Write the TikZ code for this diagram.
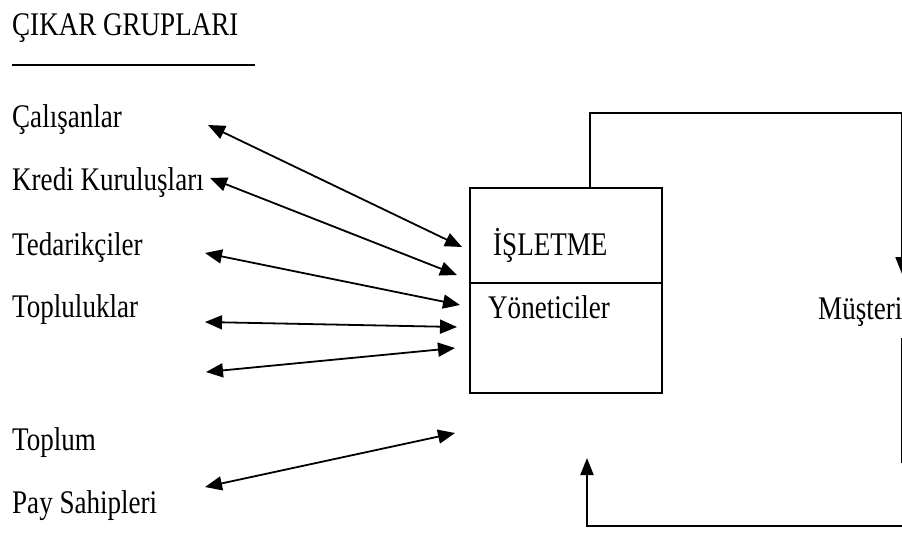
\documentclass[tikz,border=0pt]{standalone}
\usepackage{fontspec}
\setmainfont[FakeStretch=0.82]{Liberation Serif}
\usetikzlibrary{arrows.meta}
\begin{document}
\begin{tikzpicture}[x=1pt,y=-1pt,
  lbl/.style={anchor=base west,inner sep=0pt,font=\fontsize{33}{40}\selectfont},
  link/.style={line width=1.8pt,{Triangle[length=17pt,width=14pt]}-{Triangle[length=17pt,width=14pt]}},
  flow/.style={line width=2pt,-{Triangle[length=17pt,width=13pt]}},
  frame/.style={line width=2pt}]
\useasboundingbox (0,0) rectangle (902,533);
\clip (0,0) rectangle (902,533);

% heading
\node[lbl] (title) at (12,35) {ÇIKAR GRUPLARI};
\draw[frame] (12,65) -- (255,65);

% stakeholder groups
\node[lbl] (calisan) at (12,127) {Çalışanlar};
\node[lbl] (kredi) at (12,190) {Kredi Kuruluşları};
\node[lbl] (tedarik) at (12,255) {Tedarikçiler};
\node[lbl] (topluluk) at (12,317) {Topluluklar};
\node[lbl] (toplum) at (12,450) {Toplum};
\node[lbl] (pay) at (12,513) {Pay Sahipleri};

% the firm
\node[draw,frame,anchor=north west,minimum width=192pt,minimum height=205pt,inner sep=0pt]
  (isletme) at (469,187) {};
\draw[frame] (469,283) -- (661,283);
\node[lbl] (isletmeT) at (493,255) {İŞLETME};
\node[lbl] (yonetici) at (488,318) {Yöneticiler};

% customers
\node[lbl] (musteri) at (818,319) {Müşteri};

% arrow end points
\coordinate (a1) at (208,125); \coordinate (b1) at (462,247);
\coordinate (a2) at (210,178); \coordinate (b2) at (457,275);
\coordinate (a3) at (205,253); \coordinate (b3) at (460,305);
\coordinate (a4) at (205,322); \coordinate (b4) at (457,327);
\coordinate (a5) at (206,372); \coordinate (b5) at (455,348);
\coordinate (a6) at (205,487); \coordinate (b6) at (455,433);

\draw[link] (a1) -- (b1);
\draw[link] (a2) -- (b2);
\draw[link] (a3) -- (b3);
\draw[link] (a4) -- (b4);
\draw[link] (a5) -- (b5);
\draw[link] (a6) -- (b6);

% feedback loop
\coordinate (top) at (590,187);
\coordinate (tr) at (902,113);
\coordinate (down) at (902,274);
\draw[flow] (top) -- (590,113) -- (tr) -- (down);
\coordinate (rs) at (902,338);
\coordinate (re) at (902,463);
\draw[frame] (rs) -- (re);
\coordinate (br) at (915,526);
\coordinate (up) at (587,458);
\draw[flow] (br) -- (587,526) -- (up);
\end{tikzpicture}
\end{document}
